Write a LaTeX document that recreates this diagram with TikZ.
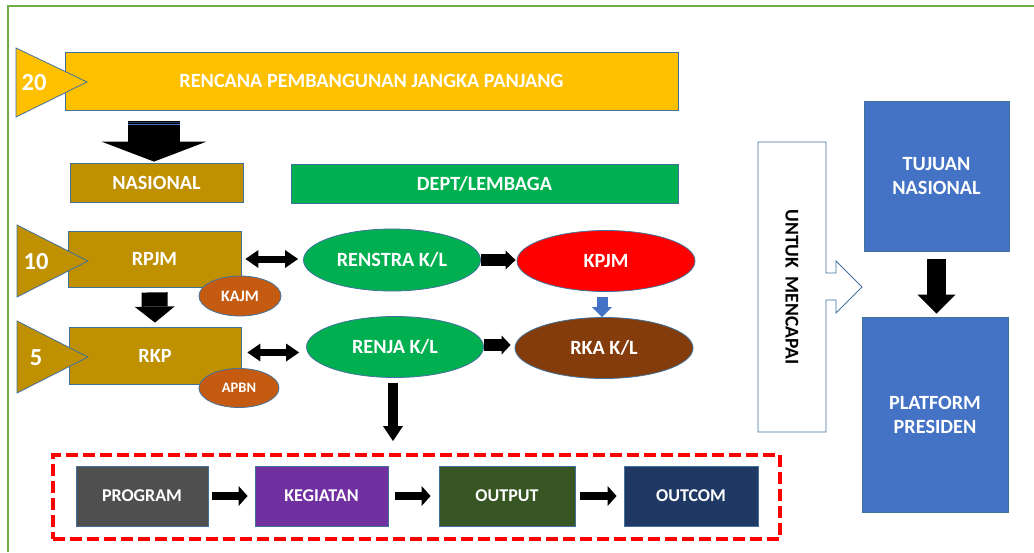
\documentclass[tikz,border=0pt]{standalone}
\usepackage{fontspec}
\setmainfont{Carlito}
\usetikzlibrary{shapes.geometric,arrows.meta,calc}
\definecolor{gold}{HTML}{FFC000}
\definecolor{dgold}{HTML}{BF9000}
\definecolor{kgreen}{HTML}{00B050}
\definecolor{kred}{HTML}{FF0000}
\definecolor{kbrown}{HTML}{843C0C}
\definecolor{korange}{HTML}{C55A11}
\definecolor{kblue}{HTML}{4472C4}
\definecolor{bord}{HTML}{41719C}
\definecolor{kgray}{HTML}{4F4F4F}
\definecolor{kpurple}{HTML}{7030A0}
\definecolor{kdgreen}{HTML}{375623}
\definecolor{knavy}{HTML}{203864}
\definecolor{frame}{HTML}{70AD47}
\newcommand\lbl{\bfseries\fontsize{20.2}{24}\selectfont}
\begin{document}
\begin{tikzpicture}[x=1pt,y=-1pt,
  box/.style={draw=bord, line width=0.8pt, inner sep=0pt, text=white, font=\lbl, align=center},
  rbox/.style n args={3}{box, rectangle, fill=#1, minimum width=#2, minimum height=#3},
  ebox/.style n args={3}{box, ellipse, fill=#1, minimum width=#2, minimum height=#3},
  fat/.style n args={3}{draw=black, line width=#1, -{Triangle[length=#2, width=#3, line width=0pt]}},
  dfat/.style n args={3}{draw=black, line width=#1, {Triangle[length=#2, width=#3, line width=0pt]}-{Triangle[length=#2, width=#3, line width=0pt]}},
  tri/.style={draw=bord, line width=0.8pt},
  num/.style={text=white, font=\bfseries\fontsize{24.5}{28}\selectfont, inner sep=0pt},
  small/.style={font=\bfseries\fontsize{18}{22}\selectfont}
]
\useasboundingbox (0,0) rectangle (1034,552);
\fill[white] (0,0) rectangle (1034,552);
% frame
\draw[frame, line width=1.2pt] (8,552) -- (8,6) -- (1034,6);

% top row
\node[rbox={gold}{613pt}{58pt}] (rpjp) at (371.5,81) {RENCANA PEMBANGUNAN JANGKA PANJANG};
\draw[tri, fill=gold] (16,48) -- (16,117) -- (87,82) -- cycle;
\node[num] (n20) at (34,83) {20};

\node[rbox={dgold}{173pt}{39pt}] (nas) at (156.5,182.5) {NASIONAL};
\node[rbox={kgreen}{387pt}{39pt}] (dept) at (484.5,183.5) {DEPT/LEMBAGA};

\draw[fat={52pt}{20pt}{105pt}, shorten <=11pt, shorten >=1pt] ([xshift=-2.5pt]nas.north |- rpjp.south) -- ([xshift=-2.5pt]nas.north);
\draw[knavy, line width=1pt] (128,122.5) -- (180,122.5);
\draw[kblue, line width=0.8pt] (128,124.5) -- (180,124.5);

% RPJM row
\node[rbox={dgold}{173pt}{56pt}] (rpjm) at (154.5,259) {RPJM};
\draw[tri, fill=dgold] (17,225) -- (17,297) -- (88,261) -- cycle;
\node[num] (n10) at (36,262) {10};
\node[ebox={korange}{82pt}{40pt}, font=\bfseries\fontsize{16}{19}\selectfont] (kajm) at (240,296) {KAJM};

\node[ebox={kgreen}{177pt}{62pt}] (renstra) at (392,260) {RENSTRA K/L};
\node[ebox={kred}{178pt}{61pt}] (kpjm) at (606,261) {KPJM};

% RKP row
\node[rbox={dgold}{172pt}{57pt}] (rkp) at (155,355.5) {RKP};
\draw[tri, fill=dgold] (17,321) -- (17,393) -- (88,357) -- cycle;
\node[num] (n5) at (36,358) {5};
\node[ebox={korange}{80pt}{39pt}, font=\bfseries\fontsize{14.5}{17}\selectfont] (apbn) at (239,388) {APBN};

\node[ebox={kgreen}{177pt}{61pt}] (renja) at (395,347) {RENJA K/L};
\node[ebox={kbrown}{178pt}{61pt}] (rka) at (604,348) {RKA K/L};

% arrows middle
\draw[fat={26pt}{16pt}{40pt}, shorten <=5pt, shorten >=4pt] (rpjm.south) -- (rkp.north);
\draw[dfat={7pt}{13pt}{18pt}, shorten <=4pt, shorten >=5pt] (rpjm.east) -- (rpjm.east -| renstra.west);
\draw[dfat={7pt}{13pt}{18pt}, shorten <=6pt, shorten >=7pt] ([yshift=3pt]rkp.east) -- ([yshift=3pt]rkp.east -| renja.west);
\draw[fat={12pt}{10pt}{19pt}, shorten <=0pt, shorten >=1pt] (renstra.east) -- (renstra.east -| kpjm.west);
\draw[fat={12pt}{9pt}{19pt}, shorten <=0pt, shorten >=4pt] ([yshift=2pt]renja.east) -- ([yshift=2pt]renja.east -| rka.west);
\draw[draw=kblue, line width=11pt, -{Triangle[length=10pt, width=20pt, line width=0pt]}, shorten <=5pt] ([xshift=-4pt]kpjm.south) -- ([xshift=-4pt]kpjm.south |- rka.north);

% bottom group
\node[draw=kred, line width=4pt, dash pattern=on 12pt off 5pt, minimum width=727pt, minimum height=84pt, inner sep=0pt] (grp) at (416.5,497) {};
\node[rbox={kgray}{132pt}{60pt}, small] (prog) at (142,496) {PROGRAM};
\node[rbox={kpurple}{133pt}{60pt}, small] (keg) at (321.5,496) {KEGIATAN};
\node[rbox={kdgreen}{136pt}{60pt}, small] (outp) at (507,496) {OUTPUT};
\node[rbox={knavy}{134pt}{60pt}, small] (outc) at (691,496) {OUTCOM};
\draw[fat={8pt}{9pt}{20pt}, shorten <=4pt, shorten >=7pt] (prog.east) -- (keg.west);
\draw[fat={8pt}{9pt}{20pt}, shorten <=7pt, shorten >=8pt] (keg.east) -- (outp.west);
\draw[fat={8pt}{9pt}{20pt}, shorten <=5pt, shorten >=7pt] (outp.east) -- (outc.west);
\draw[fat={10pt}{15pt}{20pt}, shorten <=5pt, shorten >=12pt] ([xshift=-2pt]renja.south) -- ([xshift=-2pt]renja.south |- grp.north);

% right side
\draw[draw=bord, line width=0.8pt, fill=white] (758,142) -- (826,142) -- (826,273) -- (836,273) -- (836,261) -- (862,287) -- (836,313) -- (836,300) -- (826,300) -- (826,432) -- (758,432) -- cycle;
\node[rotate=-90, font=\bfseries\fontsize{19.5}{23}\selectfont, text=black, inner sep=0pt] (untuk) at (792,287) {UNTUK\ \ MENCAPAI};
\node[rbox={kblue}{145pt}{150pt}] (tuj) at (936.5,176) {TUJUAN\\NASIONAL};
\node[rbox={kblue}{146pt}{195pt}] (plat) at (935,414.5) {PLATFORM\\PRESIDEN};
\draw[fat={19pt}{19pt}{38pt}, shorten <=8pt, shorten >=3pt] (tuj.south) -- (plat.north -| tuj.south);
\end{tikzpicture}
\end{document}
